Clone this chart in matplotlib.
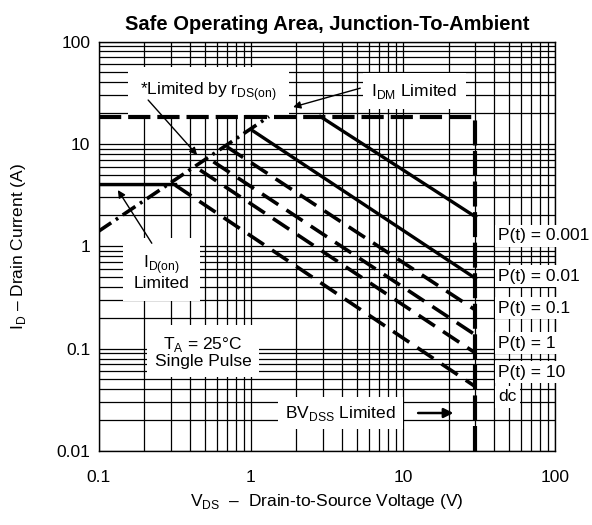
import matplotlib.pyplot as plt
import numpy as np

plt.rcParams['font.family'] = ['Liberation Sans', 'DejaVu Sans']
plt.rcParams['mathtext.fontset'] = 'custom'
plt.rcParams['mathtext.rm'] = 'Liberation Sans'
plt.rcParams['lines.scale_dashes'] = False

# limits
idm_limit = 18.5      # A
bv_dss = 30.0         # V
id_on = 4.1           # A

# r_DS(on) limit line (dash-dot)
rds_v = [0.1, 1.32]
rds_i = [1.4, 18.5]

# single pulse lines: start on the limit lines, end at BV_DSS
pulse_names = ['0.001', '0.01', '0.1', '1', '10', 'dc']
pulse_v_start = [2.87, 1.02, 0.697, 0.569, 0.465, 0.319]
pulse_i_start = [18.5, 13.6, 9.37, 6.69, 5.55, 3.96]
pulse_i_end = [1.94, 0.486, 0.238, 0.136, 0.0906, 0.0425]
pulse_label_i = [1.26, 0.51, 0.249, 0.113, 0.059, 0.0337]

x_ticks = [0.1, 1, 10, 100]
x_tick_labels = ['0.1', '1', '10', '100']
y_ticks = [0.01, 0.1, 1, 10, 100]
y_tick_labels = ['0.01', '0.1', '1', '10', '100']

fs = 12.5

fig = plt.figure(figsize=(5.92, 5.25), dpi=100)
ax = fig.add_axes([98.5 / 592, 74 / 525, 456.5 / 592, 409.5 / 525])
ax.set_xscale('log')
ax.set_yscale('log')
ax.set_xlim(0.1, 100)
ax.set_ylim(0.01, 100)

ax.set_axisbelow(True)
ax.grid(True, which='both', color='black', lw=0.9)
for s in ax.spines.values():
    s.set_linewidth(1.0)

ax.set_xticks(x_ticks)
ax.set_xticklabels(x_tick_labels)
ax.set_yticks(y_ticks)
ax.set_yticklabels(y_tick_labels)
ax.tick_params(which='both', length=0, labelsize=fs)
ax.tick_params(axis='x', pad=14)
ax.tick_params(axis='y', pad=6)

# limit lines
ax.plot([0.1, bv_dss], [idm_limit, idm_limit], color='black', lw=3.0,
        dashes=(16, 5), solid_capstyle='butt', zorder=5)
ax.plot([bv_dss, bv_dss], [0.01, idm_limit], color='black', lw=3.0,
        dashes=(18, 4), zorder=5)
ax.plot([0.1, pulse_v_start[-1]], [id_on, id_on], color='black', lw=2.4, zorder=5)
ax.plot(rds_v, rds_i, color='black', lw=2.6, dashes=(11, 4, 2, 4), zorder=5)

# pulse lines
for k in range(len(pulse_names)):
    if k < 2:
        ax.plot([pulse_v_start[k], bv_dss], [pulse_i_start[k], pulse_i_end[k]],
                color='black', lw=2.4, zorder=5)
    else:
        ax.plot([pulse_v_start[k], bv_dss], [pulse_i_start[k], pulse_i_end[k]],
                color='black', lw=2.6, dashes=(14, 7), zorder=5)
    if pulse_names[k] == 'dc':
        txt = 'dc'
    else:
        txt = 'P(t) = ' + pulse_names[k]
    ax.text(42.5, pulse_label_i[k], txt, fontsize=fs, va='center', ha='left',
            clip_on=False, zorder=3,
            bbox=dict(boxstyle='square,pad=0.2', fc='white', ec='none'))

arrow = dict(arrowstyle='-|>', color='black', lw=1.0, mutation_scale=11,
             shrinkA=0, shrinkB=0)

ax.text(0.525, 32.8, r'*Limited by r$_\mathregular{DS(on)}$', fontsize=fs,
        ha='center', va='center', zorder=3,
        bbox=dict(boxstyle='square,pad=0.7', fc='white', ec='none'))
ax.annotate('', xy=(0.445, 7.78), xytext=(0.212, 26.8), zorder=6, arrowprops=arrow)

ax.text(11.9, 32.8, r'I$_\mathregular{DM}$ Limited', fontsize=fs, ha='center', va='center',
        bbox=dict(boxstyle='square,pad=0.5', fc='white', ec='none'), zorder=3)
ax.annotate('', xy=(1.9, 22.9), xytext=(5.25, 35), zorder=6, arrowprops=arrow)

ax.text(0.26, 0.56, 'I$_\\mathregular{D(on)}$\nLimited', fontsize=fs, ha='center',
        va='center', linespacing=1.0, zorder=3,
        bbox=dict(boxstyle='square,pad=0.6', fc='white', ec='none'))
ax.annotate('', xy=(0.134, 3.54), xytext=(0.224, 1.07), zorder=6, arrowprops=arrow)

ax.text(0.487, 0.0927, 'T$_\\mathregular{A}$ = 25$\\mathregular{\\degree}$C\nSingle Pulse',
        fontsize=fs, ha='center', va='center', linespacing=1.05, zorder=3,
        bbox=dict(boxstyle='square,pad=0.45', fc='white', ec='none'))

ax.text(3.88, 0.0235, r'BV$_\mathregular{DSS}$ Limited', fontsize=fs, ha='center',
        va='center', zorder=3, bbox=dict(boxstyle='square,pad=0.4', fc='white', ec='none'))
ax.annotate('', xy=(21.5, 0.0235), xytext=(12.6, 0.0235), zorder=6,
            arrowprops=dict(arrowstyle='-|>', color='black', lw=1.8, mutation_scale=14,
                            shrinkA=0, shrinkB=0))

ax.set_title('Safe Operating Area, Junction-To-Ambient', fontsize=14.5, fontweight='bold', pad=8)
ax.set_xlabel(r'V$_\mathregular{DS}$  –  Drain-to-Source Voltage (V)', fontsize=fs)
ax.set_ylabel(r'I$_\mathregular{D}$ – Drain Current (A)', fontsize=fs)
ax.xaxis.set_label_coords(0.5, -0.1)
ax.yaxis.set_label_coords(-0.155, 0.5)

fig.savefig('out.png', dpi=100)
